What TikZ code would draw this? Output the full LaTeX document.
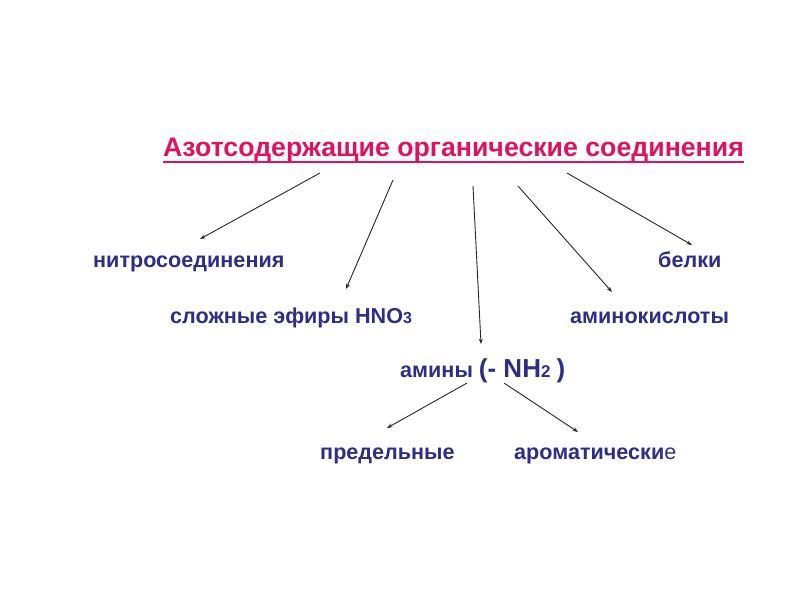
\documentclass[tikz,border=0pt]{standalone}
\usepackage{fontspec}
\setmainfont{Liberation Sans}
\usetikzlibrary{arrows.meta}
\definecolor{titlecol}{HTML}{E0115F}
\definecolor{labcol}{HTML}{2E2E8A}
\begin{document}
\begin{tikzpicture}[x=1pt,y=-1pt,
  lab/.style={anchor=base west,inner sep=0pt,text=labcol,font=\fontsize{21.6}{24}\selectfont\bfseries},
  conn/.style={draw=black!85,line width=0.9pt,-{Stealth[length=5.5pt,width=4pt]}}]
\useasboundingbox (0,0) rectangle (800,600);
\node[anchor=base west,inner sep=0pt,text=titlecol,font=\fontsize{26.7}{30}\selectfont\bfseries] (title) at (163,156) {Азотсодержащие органические соединения};
\draw[titlecol,line width=1.8pt] ([yshift=-6pt]title.base west) -- ([yshift=-6pt]title.base east);
\node[lab] (nitro) at (93,267) {нитросоединения};
\node[lab] (belki) at (658,267) {белки};
\node[lab] (efiry) at (170,323) {сложные эфиры HNO{\fontsize{16}{16}\selectfont 3}};
\node[lab] (amino) at (570,323) {аминокислоты};
\node[lab] (aminy) at (400,377) {амины {\fontsize{26}{28}\selectfont(- NH}{\fontsize{17}{18}\selectfont 2} {\fontsize{26}{28}\selectfont)}};
\node[lab] (pred) at (320,459) {предельные};
\node[lab] (arom) at (514,459) {ароматически\mdseries е};
\coordinate (s1) at (320,173); \coordinate (e1) at (200,239);
\coordinate (s2) at (393,180); \coordinate (e2) at (346,289);
\coordinate (s3) at (473,186); \coordinate (e3) at (481,344);
\coordinate (s4) at (518,186); \coordinate (e4) at (612,292);
\coordinate (s5) at (567,173); \coordinate (e5) at (692,245);
\coordinate (s6) at (467,383); \coordinate (e6) at (387,428);
\coordinate (s7) at (504,383); \coordinate (e7) at (578,432);
\foreach \i in {1,...,7} \draw[conn] (s\i) -- (e\i);
\end{tikzpicture}
\end{document}
